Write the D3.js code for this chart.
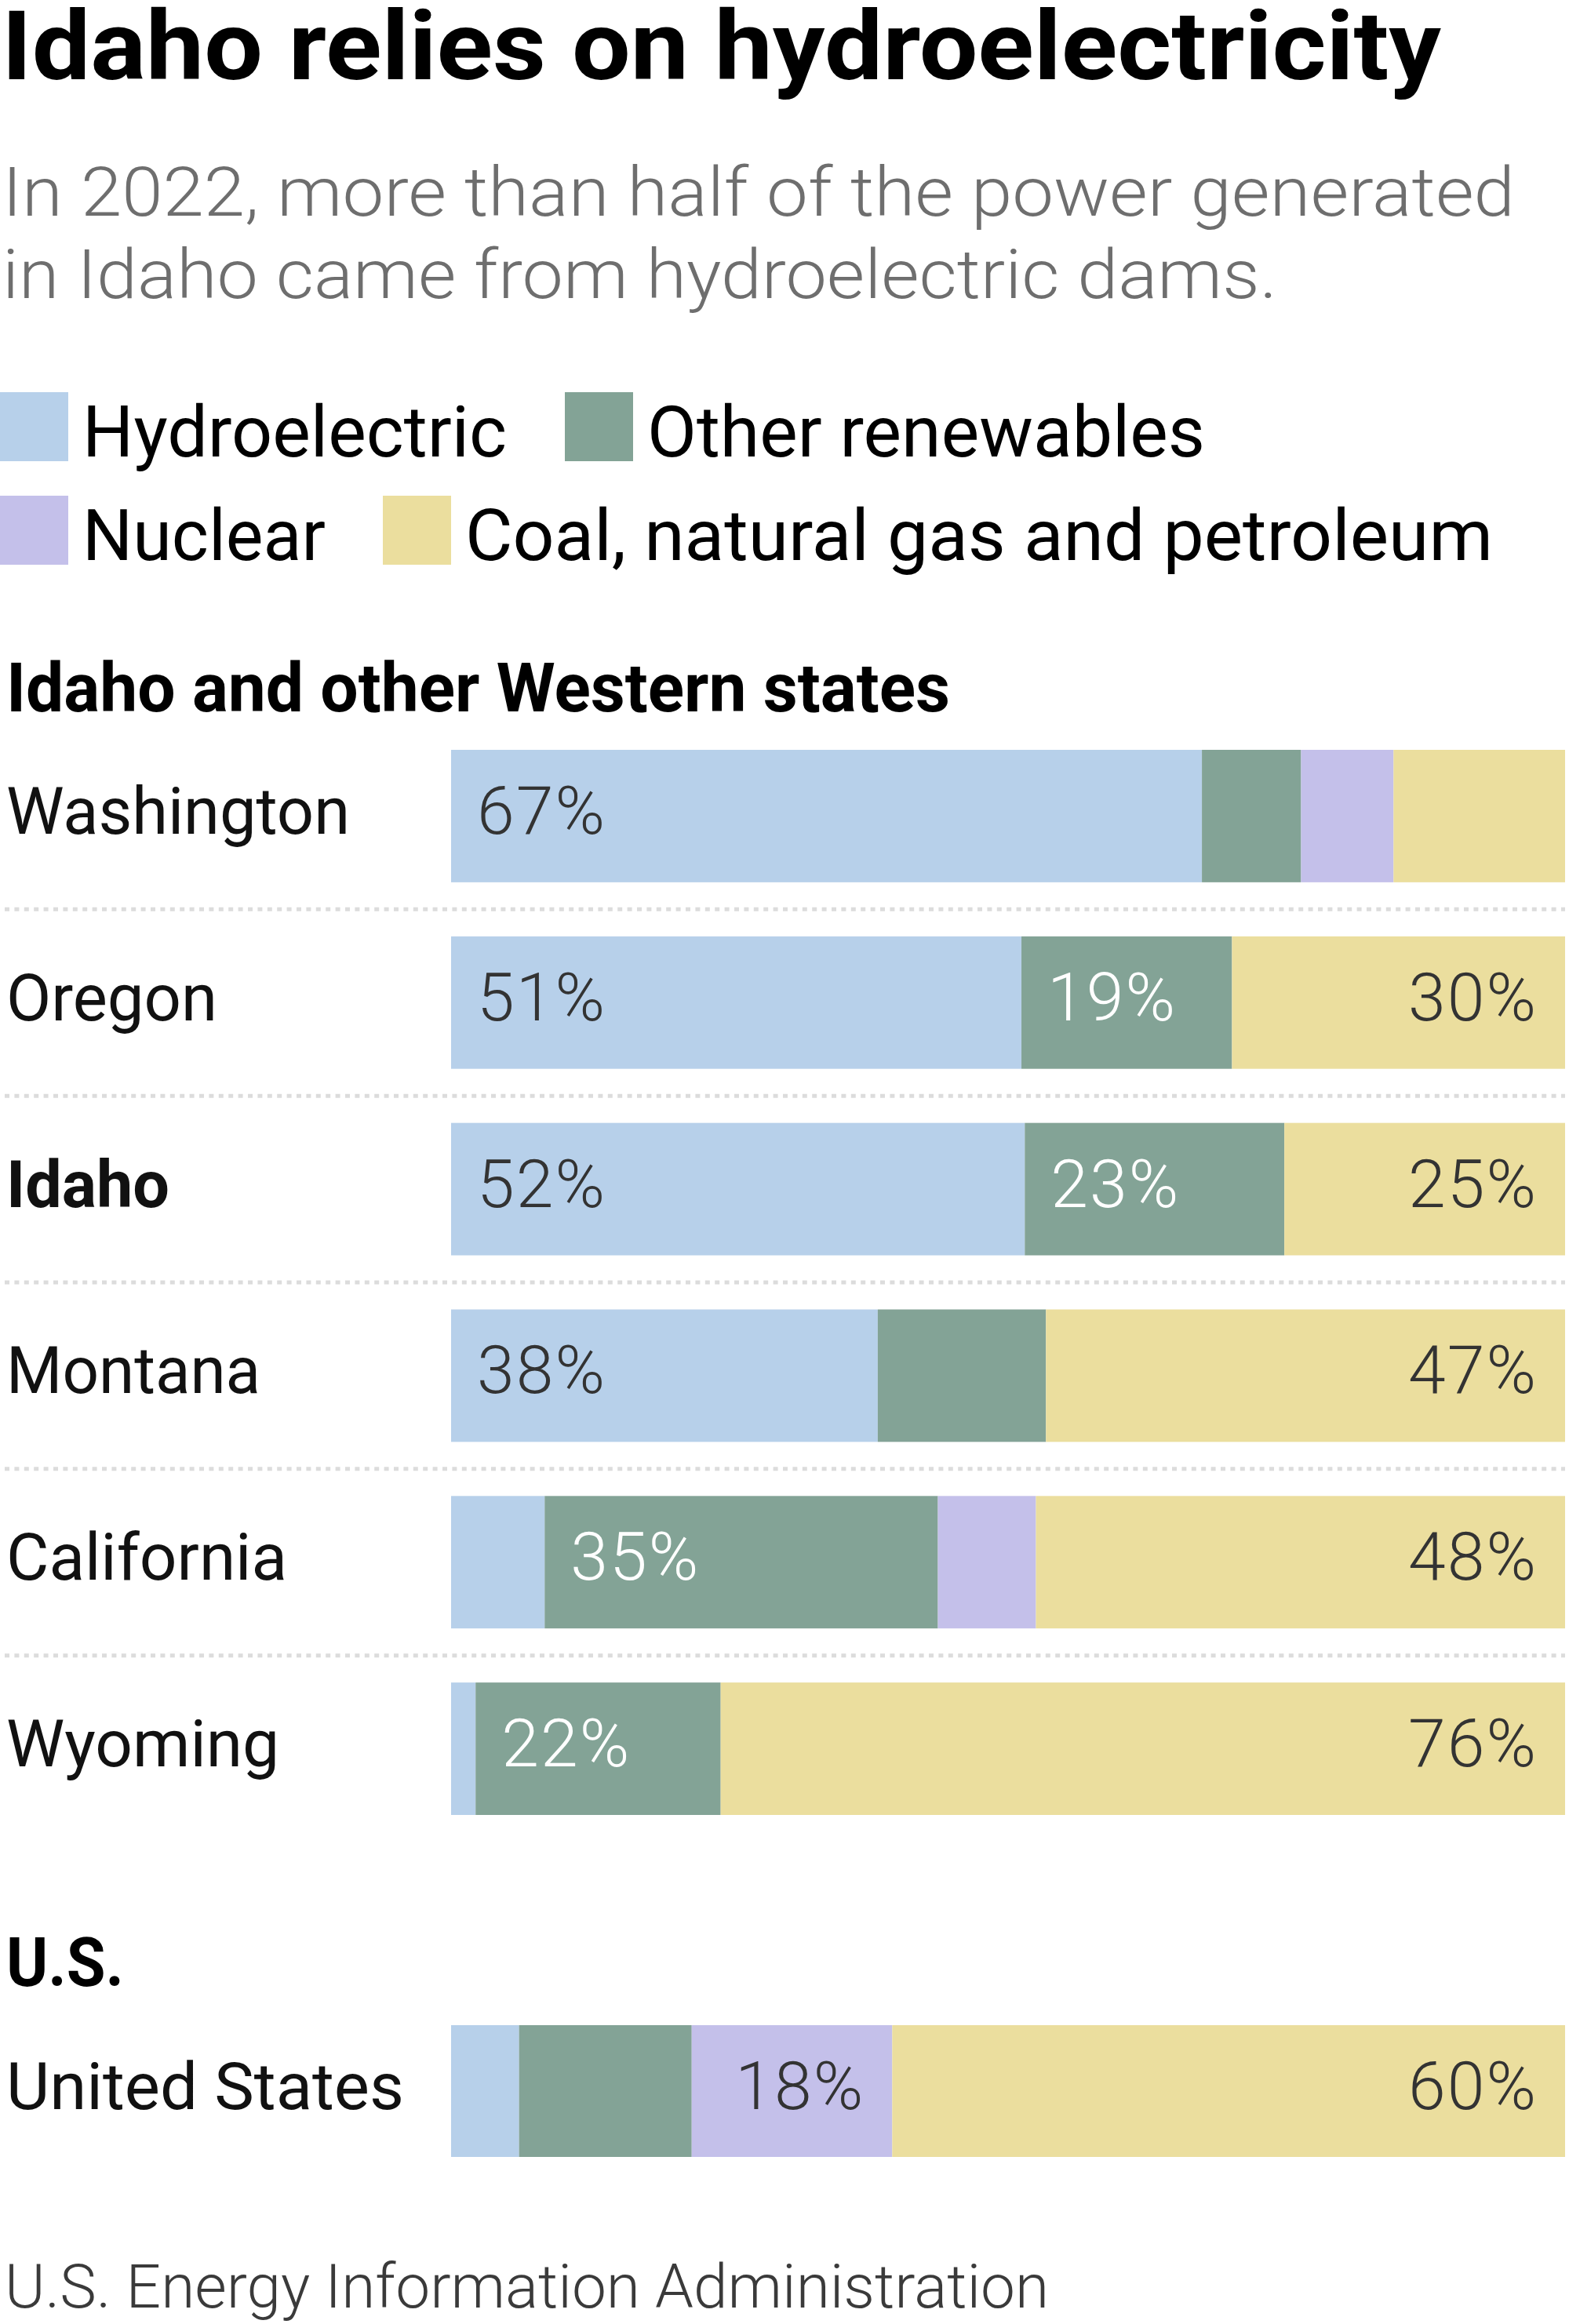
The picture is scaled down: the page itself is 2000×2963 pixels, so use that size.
<!DOCTYPE html>
<html>
<head>
<meta charset="utf-8">
<script src="https://cdn.jsdelivr.net/npm/d3@7"></script>
<style>
  html, body { margin: 0; padding: 0; background: #fff; }
  svg { display: block; font-family: Roboto, "Noto Sans", "Liberation Sans", sans-serif; }
</style>
</head>
<body>
<svg id="chart" width="2000" height="2963"></svg>
<script>
// ---------------- DATA ----------------
const title = "Idaho relies on hydroelectricity";
const subtitleLines = ["In 2022, more than half of the power generated", "in Idaho came from hydroelectric dams."];
const source = "U.S. Energy Information Administration";

const seriesKeys = ["hydro", "other", "nuclear", "fossil"];
const seriesNames = ["Hydroelectric", "Other renewables", "Nuclear", "Coal, natural gas and petroleum"];
const seriesColors = ["#b7d0ea", "#83a396", "#c4c0ea", "#ebde9e"];

const westHeader = "Idaho and other Western states";
const states = ["Washington", "Oregon", "Idaho", "Montana", "California", "Wyoming"];
const hydro   = [67.4, 51.2, 51.5, 38.3, 8.4, 2.2];
const other   = [8.9, 18.9, 23.3, 15.1, 35.3, 22.0];
const nuclear = [8.3, 0, 0, 0, 8.8, 0];
const fossil  = [15.4, 29.9, 25.2, 46.6, 47.5, 75.8];
// which segments carry a printed percentage
const labeledWest = [["hydro"], ["hydro", "other", "fossil"], ["hydro", "other", "fossil"], ["hydro", "fossil"], ["other", "fossil"], ["other", "fossil"]];
const highlightState = "Idaho";

const usHeader = "U.S.";
const usNames = ["United States"];
const usHydro   = [6.1];
const usOther   = [15.5];
const usNuclear = [18.0];
const usFossil  = [60.4];
const labeledUS = [["nuclear", "fossil"]];

// ---------------- LAYOUT ----------------
const svg = d3.select("#chart");
const barLeft = 575, barRight = 1995;
const x = d3.scaleLinear().domain([0, 100]).range([barLeft, barRight]);
const color = d3.scaleOrdinal().domain(seriesKeys).range(seriesColors);

function fit(sel, w) {
  sel.attr("textLength", w).attr("lengthAdjust", "spacingAndGlyphs");
  return sel;
}

// Title
fit(svg.append("text").attr("x", 2).attr("y", 101)
  .attr("font-size", 122).attr("font-weight", 700).attr("fill", "#000")
  .text(title), 1835);

// Subtitle
const subW = [1928, 1625];
subtitleLines.forEach((l, i) => {
  fit(svg.append("text").attr("x", 3).attr("y", 275 + i * 105)
    .attr("font-size", 87).attr("font-weight", 300).attr("fill", "#6e6e6e")
    .text(l), subW[i]);
});

// Legend
const legendPos = [[0, 500], [720, 500], [0, 632], [488, 632]];
const legendW = [541, 711, 310, 1310];
seriesKeys.forEach((k, i) => {
  const [lx, ly] = legendPos[i];
  svg.append("rect").attr("x", lx).attr("y", ly).attr("width", 87).attr("height", 88)
    .attr("fill", color(k));
  fit(svg.append("text").attr("x", lx + 105).attr("y", ly + 82)
    .attr("font-size", 91).attr("fill", "#000").text(seriesNames[i]), legendW[i]);
});

// Section header
fit(svg.append("text").attr("x", 8).attr("y", 907)
  .attr("font-size", 87).attr("font-weight", 700).attr("fill", "#000")
  .text(westHeader), 1203);

const labelW = { "Washington": 438, "Oregon": 269, "Idaho": 208, "Montana": 324, "California": 358, "Wyoming": 348, "United States": 507 };

function drawGroup(names, data, labeled, yScale, separators) {
  const stack = d3.stack().keys(seriesKeys)(data);
  const g = svg.append("g");

  if (separators) {
    names.slice(0, -1).forEach(n => {
      const sy = yScale(n) + yScale.bandwidth() + (yScale.step() - yScale.bandwidth()) / 2;
      g.append("line").attr("x1", 6).attr("x2", barRight).attr("y1", sy).attr("y2", sy)
        .attr("stroke", "#dcdcdc").attr("stroke-width", 5).attr("stroke-dasharray", "6,6.4");
    });
  }

  // bars
  stack.forEach(layer => {
    g.selectAll(null).data(layer).join("rect")
      .attr("x", d => x(d[0]))
      .attr("width", d => x(d[1]) - x(d[0]))
      .attr("y", (d, i) => yScale(names[i]))
      .attr("height", yScale.bandwidth())
      .attr("fill", color(layer.key));
  });

  // row labels
  names.forEach(n => {
    fit(g.append("text").attr("x", 8).attr("y", yScale(n) + 107)
      .attr("font-size", 83).attr("font-weight", n === highlightState ? 700 : 400)
      .attr("fill", "#111").text(n), labelW[n]);
  });

  // percentage labels
  stack.forEach(layer => {
    layer.forEach((d, i) => {
      if (!labeled[i].includes(layer.key)) return;
      const val = Math.round(d.data[layer.key]);
      const startAlign = layer.key === "hydro" || layer.key === "other";
      g.append("text")
        .attr("x", startAlign ? x(d[0]) + 33 : x(d[1]) - 35)
        .attr("y", yScale(names[i]) + 107)
        .attr("text-anchor", startAlign ? "start" : "end")
        .attr("font-size", 86).attr("font-weight", 300).attr("letter-spacing", 2)
        .attr("fill", layer.key === "other" ? "#ffffff" : "#333333")
        .text(val + "%");
    });
  });
}

// Western states
const westData = states.map((s, i) => ({ hydro: hydro[i], other: other[i], nuclear: nuclear[i], fossil: fossil[i] }));
const yWest = d3.scaleBand().domain(states).range([956, 2314]).paddingInner(0.29).paddingOuter(0);
drawGroup(states, westData, labeledWest, yWest, true);

// U.S.
fit(svg.append("text").attr("x", 8).attr("y", 2532)
  .attr("font-size", 87).attr("font-weight", 700).attr("fill", "#000")
  .text(usHeader), 150);
const usData = usNames.map((s, i) => ({ hydro: usHydro[i], other: usOther[i], nuclear: usNuclear[i], fossil: usFossil[i] }));
const yUS = d3.scaleBand().domain(usNames).range([2582, 2750]).paddingInner(0).paddingOuter(0);
drawGroup(usNames, usData, labeledUS, yUS, false);

// Source
fit(svg.append("text").attr("x", 6).attr("y", 2942)
  .attr("font-size", 78).attr("font-weight", 300).attr("fill", "#3a3a3a")
  .text(source), 1331);
</script>
</body>
</html>
